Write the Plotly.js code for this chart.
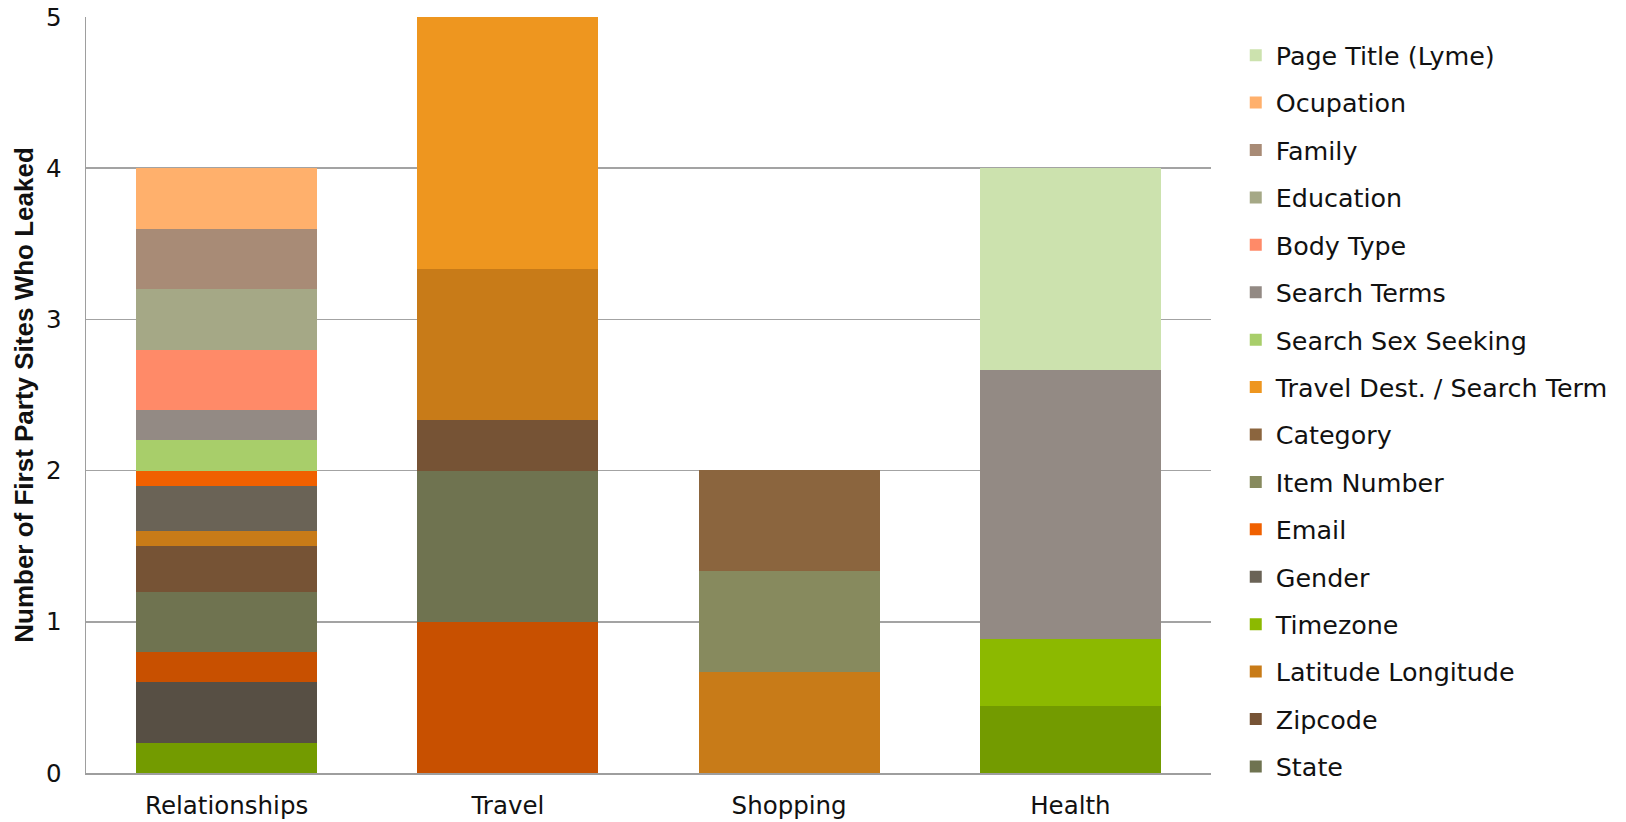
<!DOCTYPE html>
<html>
<head>
<meta charset="utf-8">
<script src="https://cdn.plot.ly/plotly-3.0.1.min.js"></script>
<style>
  html, body { margin: 0; padding: 0; background: #ffffff; }
  #chart { width: 1626px; height: 822px; }
</style>
</head>
<body>
<div id="chart"></div>
<script>
// Site categories along the x axis
const categories = ['Relationships', 'Travel', 'Shopping', 'Health'];

// Leaked field counts per category, listed from the bottom of each stack upward
const series1          = [0.2, 0,     0,     0.444];
const series2          = [0.4, 0,     0,     0];
const series3          = [0.2, 1,     0,     0];
const state            = [0.4, 1,     0,     0];
const zipcode          = [0.3, 0.333, 0,     0];
const latitudeLong     = [0.1, 1,     0.667, 0];
const timezone         = [0,   0,     0,     0.444];
const gender           = [0.3, 0,     0,     0];
const email            = [0.1, 0,     0,     0];
const itemNumber       = [0,   0,     0.667, 0];
const category         = [0,   0,     0.667, 0];
const travelDest       = [0,   1.667, 0,     0];
const searchSexSeeking = [0.2, 0,     0,     0];
const searchTerms      = [0.2, 0,     0,     1.778];
const bodyType         = [0.4, 0,     0,     0];
const education        = [0.4, 0,     0,     0];
const family           = [0.4, 0,     0,     0];
const ocupation        = [0.4, 0,     0,     0];
const pageTitleLyme    = [0,   0,     0,     1.333];

// Series names, stack order (bottom first)
const seriesNames = [
  'Series 1', 'Series 2', 'Series 3',
  'State', 'Zipcode', 'Latitude Longitude', 'Timezone', 'Gender', 'Email',
  'Item Number', 'Category', 'Travel Dest. / Search Term', 'Search Sex Seeking',
  'Search Terms', 'Body Type', 'Education', 'Family', 'Ocupation', 'Page Title (Lyme)'
];
const seriesValues = [
  series1, series2, series3,
  state, zipcode, latitudeLong, timezone, gender, email,
  itemNumber, category, travelDest, searchSexSeeking,
  searchTerms, bodyType, education, family, ocupation, pageTitleLyme
];

// Fill colours, one per series
const seriesColors = [
  '#739b00', '#574f44', '#c85000',
  '#6f7350', '#765335', '#c87b18', '#8cb900', '#6a6356', '#f06000',
  '#878a5e', '#8b653e', '#ee961f', '#a8ce6a',
  '#938a84', '#ff8a68', '#a5a886', '#a88b76', '#ffb06c', '#cce2ae'
];
// The first three series are left out of the legend
const inLegend = seriesNames.map((n, i) => i >= 3);

// Legend lists the top of the stack first; each trace sits in its own group
// so the group gap sets the row spacing
const traces = seriesNames.map((name, i) => ({
  type: 'bar',
  name: name,
  x: categories,
  y: seriesValues[i],
  legendgroup: 'g' + i,
  legendrank: seriesNames.length - i,
  showlegend: inLegend[i],
  marker: { color: seriesColors[i], line: { width: 0 } },
  hoverinfo: 'name+y'
}));

const textFont = { family: 'DejaVu Sans, Verdana, sans-serif', size: 24.5, color: '#111111' };
const legendFont = { family: 'DejaVu Sans, Verdana, sans-serif', size: 25.4, color: '#111111' };

const layout = {
  width: 1626,
  height: 822,
  barmode: 'stack',
  bargap: 0.356,
  paper_bgcolor: '#ffffff',
  plot_bgcolor: '#ffffff',
  margin: { l: 86, r: 415, t: 17, b: 49, pad: 0 },
  font: textFont,
  xaxis: {
    type: 'category',
    showgrid: false,
    showline: true,
    linecolor: '#9e9e9e',
    linewidth: 1.5,
    ticks: '',
    tickfont: textFont,
    ticklabelstandoff: 10,
    zeroline: false
  },
  yaxis: {
    range: [0, 5],
    tickvals: [0, 1, 2, 3, 4, 5],
    ticktext: ['0', '1', '2', '3', '4', '5'],
    showgrid: true,
    gridcolor: '#a3a3a3',
    gridwidth: 1.5,
    showline: true,
    linecolor: '#9e9e9e',
    linewidth: 1.5,
    zeroline: false,
    ticks: '',
    tickfont: textFont,
    ticklabelstandoff: 18,
    title: {
      text: 'Number of First Party Sites Who Leaked',
      font: { family: 'Liberation Sans, Arial, sans-serif', size: 26, color: '#111111', weight: 'bold' },
      standoff: 5
    }
  },
  legend: {
    x: 1.022,
    xanchor: 'left',
    y: 0.98,
    yanchor: 'top',
    traceorder: 'grouped',
    tracegroupgap: 11.4,
    maxheight: 900,
    font: legendFont,
    bgcolor: 'rgba(0,0,0,0)',
    borderwidth: 0
  },
  showlegend: true
};

Plotly.newPlot('chart', traces, layout, { displayModeBar: false, staticPlot: true });
</script>
</body>
</html>
